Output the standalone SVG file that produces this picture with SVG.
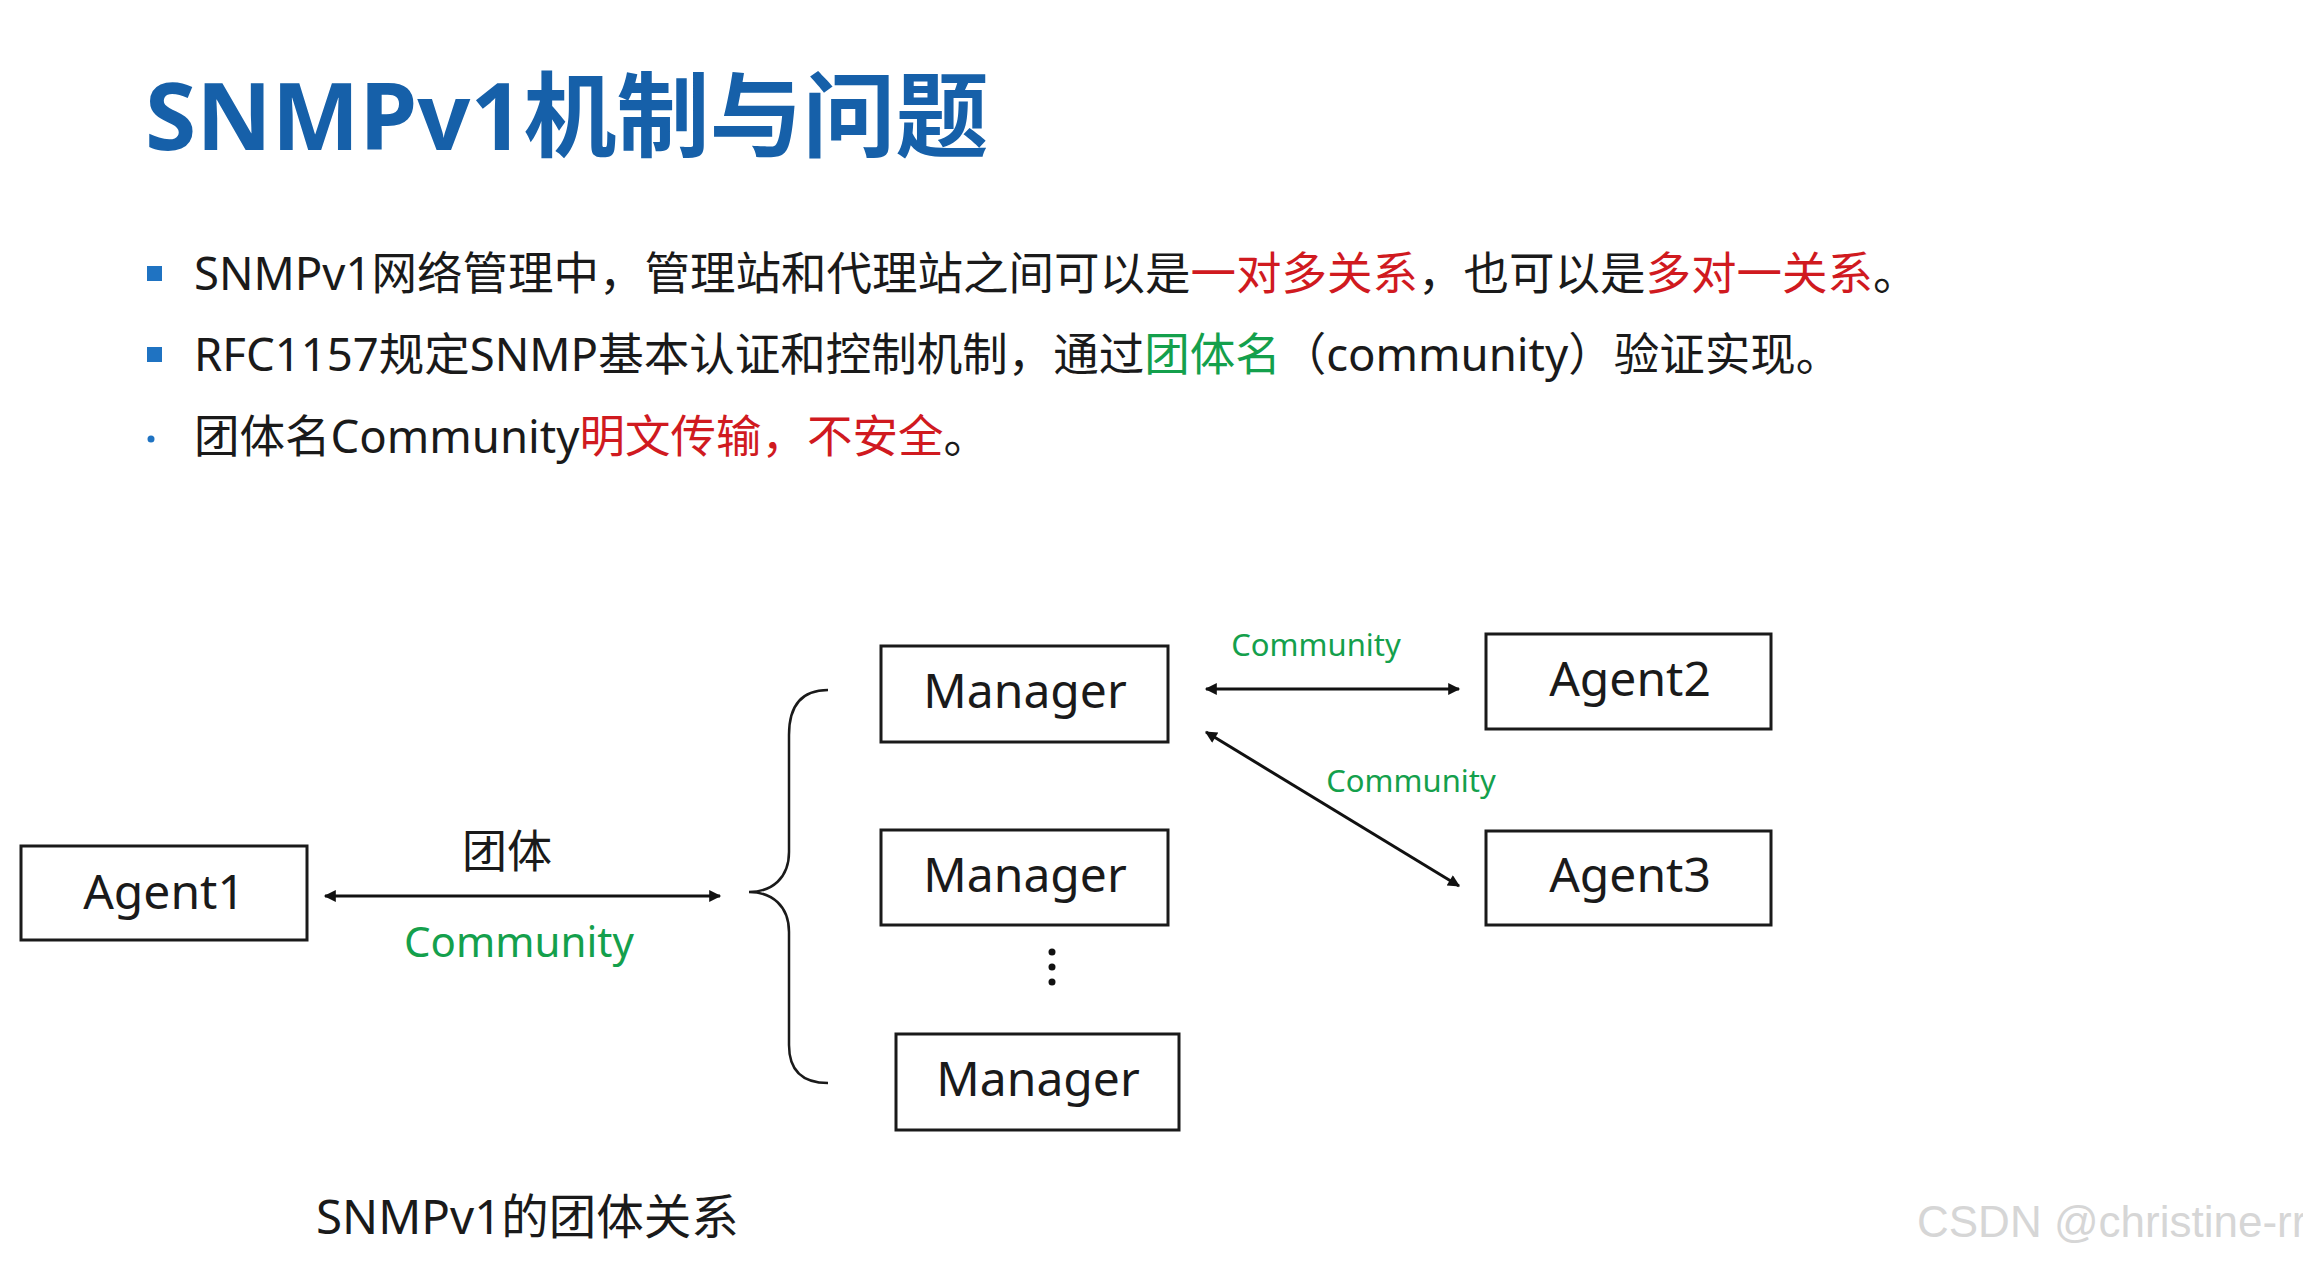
<svg xmlns="http://www.w3.org/2000/svg" width="2303" height="1261" viewBox="0 0 2303 1261">
<style>
.t{font-family:"Noto Sans","Noto Sans CJK SC",sans-serif;fill:#1a1a1a}
.title{font-family:"Noto Sans","Noto Sans CJK SC",sans-serif;font-weight:bold;fill:#1660a9;font-size:93px}
.body{font-size:45.5px}
.red{fill:#d01a1f}
.grn{fill:#14a04c}
.box{fill:#fff;stroke:#1a1a1a;stroke-width:3}
.lbl{font-size:48px;text-anchor:middle}
.conn{stroke:#111;stroke-width:3;fill:none}
.bul{fill:#1f73c2}
</style>
<defs>
<marker id="ah" viewBox="0 0 10 10" refX="9" refY="5" markerWidth="5" markerHeight="4" orient="auto-start-reverse" markerUnits="strokeWidth">
<path d="M0,0 L10,5 L0,10 Z" fill="#111"/>
</marker>
</defs>
<rect width="2303" height="1261" fill="#fff"/>
<text class="title" x="145" y="150">SNMPv1机制与问题</text>
<g id="bullets">
<rect class="bul" x="147" y="266" width="15" height="15"/>
<text class="t body" x="194" y="290">SNMPv1网络管理中，管理站和代理站之间可以是<tspan class="red">一对多关系</tspan>，也可以是<tspan class="red">多对一关系</tspan>。</text>
<rect class="bul" x="147" y="347" width="15" height="15"/>
<text class="t body" x="194" y="371" font-size="45.8">RFC1157规定SNMP基本认证和控制机制，通过<tspan class="grn">团体名</tspan>（community）验证实现。</text>
<circle class="bul" cx="151" cy="439" r="3.5"/>
<text class="t body" x="194" y="453">团体名Community<tspan class="red">明文传输，不安全</tspan>。</text>
</g>
<g id="connectors">
<line class="conn" x1="325" y1="896" x2="720" y2="896" marker-start="url(#ah)" marker-end="url(#ah)"/>
<line class="conn" x1="1206" y1="689" x2="1459" y2="689" marker-start="url(#ah)" marker-end="url(#ah)"/>
<line class="conn" x1="1206" y1="732" x2="1459" y2="886" marker-start="url(#ah)" marker-end="url(#ah)"/>
<path d="M828,690 C802,690 789,705 789,735 L789,852 C789,878 772,892 749,892 C772,892 789,906 789,932 L789,1045 C789,1070 802,1083 828,1083" fill="none" stroke="#1a1a1a" stroke-width="2.5"/>
<text class="t" x="507" y="868" font-size="45" text-anchor="middle">团体</text>
<text class="t grn" x="519" y="957" font-size="42" text-anchor="middle">Community</text>
<text class="t grn" x="1316" y="656" font-size="31" text-anchor="middle">Community</text>
<text class="t grn" x="1411" y="792" font-size="31" text-anchor="middle">Community</text>
<circle cx="1052" cy="952" r="3.5" fill="#111"/>
<circle cx="1052" cy="967" r="3.5" fill="#111"/>
<circle cx="1052" cy="982" r="3.5" fill="#111"/>
</g>
<g id="agent1"><rect class="box" x="21" y="846" width="286" height="94"/><text class="t lbl" x="164" y="909">Agent1</text></g>
<g id="manager1"><rect class="box" x="881" y="646" width="287" height="96"/><text class="t lbl" x="1025" y="708">Manager</text></g>
<g id="manager2"><rect class="box" x="881" y="830" width="287" height="95"/><text class="t lbl" x="1025" y="892">Manager</text></g>
<g id="manager3"><rect class="box" x="896" y="1034" width="283" height="96"/><text class="t lbl" x="1038" y="1096">Manager</text></g>
<g id="agent2"><rect class="box" x="1486" y="634" width="285" height="95"/><text class="t lbl" x="1630" y="696">Agent2</text></g>
<g id="agent3"><rect class="box" x="1486" y="831" width="285" height="94"/><text class="t lbl" x="1630" y="892">Agent3</text></g>
<text class="t" x="316" y="1234" font-size="47.5">SNMPv1的团体关系</text>
<text x="1917" y="1237" font-family="Liberation Sans, sans-serif" font-size="44" fill="#d6d6d6">CSDN @christine-rr</text>
</svg>
